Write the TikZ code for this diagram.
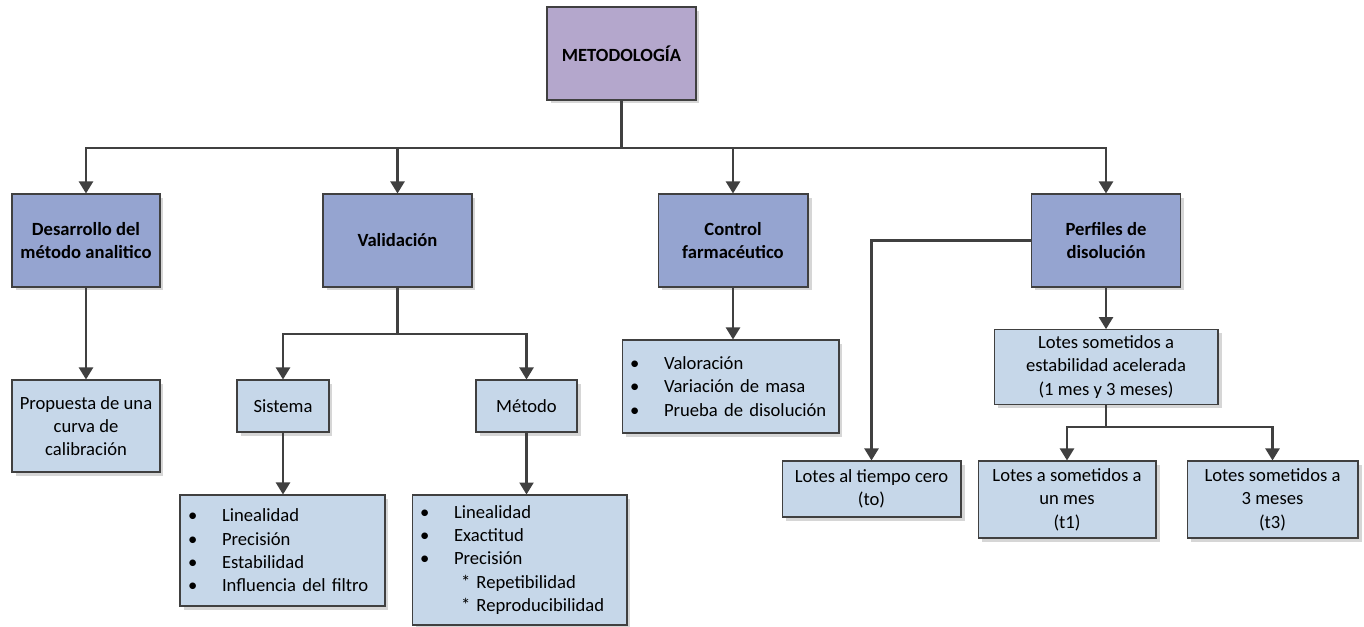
\documentclass[tikz,border=0pt]{standalone}
\usepackage{fontspec}
\setmainfont{Carlito}
\usepackage{xcolor}
\usepackage{tikz}
\usetikzlibrary{positioning,arrows.meta,shadows}
\definecolor{metMorado}{HTML}{B4A7CC}
\definecolor{metAzul}{HTML}{95A4D0}
\definecolor{metCeleste}{HTML}{C6D7E9}
\definecolor{metBorde}{HTML}{404040}
\newcommand{\vineta}{\makebox[0.68cm][l]{\textbullet}}
\tikzset{
  base/.style={draw=metBorde,line width=0.6pt,align=center,inner sep=0.12cm,
    font=\fontsize{10.6}{13.3}\selectfont,
    drop shadow={shadow xshift=0.07cm,shadow yshift=-0.07cm,fill=black!16,opacity=1}},
  raiz/.style={base,fill=metMorado,font=\fontsize{10.6}{13.3}\selectfont\bfseries},
  titulo/.style={base,fill=metAzul,font=\fontsize{10.6}{13.3}\selectfont\bfseries},
  caja/.style={base,fill=metCeleste},
  lista/.style={base,fill=metCeleste,align=left,inner xsep=0.16cm},
  arrow/.style={-{Triangle[length=2.4mm,width=2.8mm]},line width=1.3pt,draw=metBorde},
  linea/.style={line width=1.3pt,draw=metBorde}
}
\begin{document}
\begin{tikzpicture}[x=0.02cm,y=-0.02cm]
  \useasboundingbox (0,0) rectangle (1364,626);

  \node[raiz, minimum width=2.98cm, minimum height=1.86cm] (metodo) at (621.5,53.5) {METODOLOGÍA};

  \node[titulo, minimum width=2.96cm, minimum height=1.86cm] (desarrollo) at (86,240.5) {Desarrollo del\\método analitico};
  \node[titulo, minimum width=2.98cm, minimum height=1.86cm] (validacion) at (397.5,240.5) {Validación};
  \node[titulo, minimum width=3.00cm, minimum height=1.86cm] (control) at (733,240.5) {Control\\farmacéutico};
  \node[titulo, minimum width=2.98cm, minimum height=1.86cm] (perfiles) at (1106,240.5) {Perfiles de\\disolución};

  \node[caja, minimum width=2.96cm, minimum height=1.84cm] (propuesta) at (86,426) {Propuesta de una\\curva de\\calibración};

  \node[caja, minimum width=1.84cm, minimum height=1.04cm] (sistema) at (283,406) {Sistema};
  \node[caja, minimum width=2.02cm, minimum height=1.04cm] (metodoval) at (526.5,406) {Método};

  \node[lista, text width=3.78cm, minimum height=2.22cm] (sistlista) at (282.5,550.5)
    {\vineta Linealidad\\\vineta Precisión\\\vineta Estabilidad\\\vineta Influencia del filtro};
  \node[lista, text width=3.98cm, minimum height=2.60cm] (metlista) at (519.5,560)
    {\vineta Linealidad\\\vineta Exactitud\\\vineta Precisión\\\hspace*{0.82cm}* Repetibilidad\\\hspace*{0.82cm}* Reproducibilidad};
  \node[lista, text width=4.02cm, minimum height=1.86cm] (ctrllista) at (730.5,386.5)
    {\vineta Valoración\\\vineta Variación de masa\\\vineta Prueba de disolución};

  \node[caja, minimum width=4.48cm, minimum height=1.48cm] (acelerada) at (1106,367) {Lotes sometidos a\\estabilidad acelerada\\(1 mes y 3 meses)};
  \node[caja, minimum width=3.58cm, minimum height=1.12cm] (cero) at (871.5,489) {Lotes al tiempo cero\\(to)};
  \node[caja, minimum width=3.56cm, minimum height=1.54cm] (unmes) at (1067,499.5) {Lotes a sometidos a\\un mes\\(t1)};
  \node[caja, minimum width=3.42cm, minimum height=1.54cm] (tresmeses) at (1272.5,499.5) {Lotes sometidos a\\3 meses\\(t3)};

  % buses
  \coordinate (bus) at (621.5,148);
  \coordinate (valbus) at (397.5,334);
  \coordinate (acbus) at (1106,427);

  \draw[linea] (metodo.south) -- (bus);
  \draw[arrow] (bus) -| (desarrollo.north);
  \draw[arrow] (bus) -| (validacion.north);
  \draw[arrow] (bus) -| (control.north);
  \draw[arrow] (bus) -| (perfiles.north);

  \draw[arrow] (desarrollo.south) -- (propuesta.north);

  \draw[linea] (validacion.south) -- (valbus);
  \draw[arrow] (valbus) -| (sistema.north);
  \draw[arrow] (valbus) -| (metodoval.north);
  \draw[arrow] (sistema.south) -- (sistema.south |- sistlista.north);
  \draw[arrow] (metodoval.south) -- (metodoval.south |- metlista.north);

  \draw[arrow] (control.south) -- (control.south |- ctrllista.north);

  \draw[arrow] (perfiles.west) -| (cero.north);
  \draw[arrow] (perfiles.south) -- (acelerada.north);
  \draw[linea] (acelerada.south) -- (acbus);
  \draw[arrow] (acbus) -| (unmes.north);
  \draw[arrow] (acbus) -| (tresmeses.north);
\end{tikzpicture}
\end{document}
